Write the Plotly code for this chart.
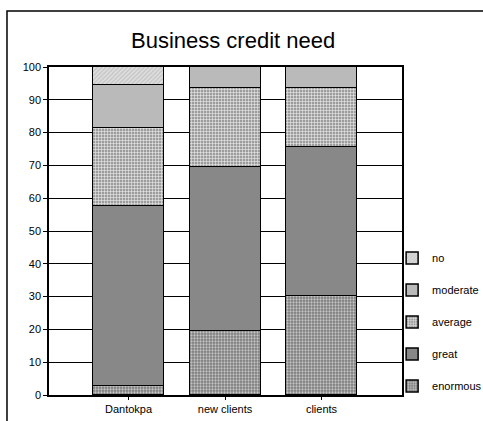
import plotly.graph_objects as go

# Share of respondents (%) by level of business credit need
categories = ["Dantokpa", "new clients", "clients"]
enormous = [2.8, 19.5, 30.2]
great = [54.9, 50.1, 45.3]
average = [23.8, 24.1, 18.2]
moderate = [13.1, 6.3, 6.3]
no_need = [5.4, 0.0, 0.0]
y_ticks = [0, 10, 20, 30, 40, 50, 60, 70, 80, 90, 100]

FONT = "Liberation Sans, Arial, sans-serif"

series = [
    ("enormous", enormous, dict(color="#8c8c8c",
                                pattern=dict(shape=".", fgcolor="#c4c4c4", bgcolor="#7a7a7a",
                                             size=3, solidity=0.45, fillmode="replace"))),
    ("great", great, dict(color="#888888")),
    ("average", average, dict(color="#aaaaaa",
                              pattern=dict(shape="+", fgcolor="#ececec", bgcolor="#9c9c9c",
                                           size=3, solidity=0.35, fillmode="replace"))),
    ("moderate", moderate, dict(color="#bababa")),
    ("no", no_need, dict(color="#d2d2d2",
                         pattern=dict(shape="/", fgcolor="#e4e4e4", bgcolor="#c8c8c8",
                                      size=3, solidity=0.4, fillmode="replace"))),
]

fig = go.Figure()
n = len(series)
for i, (name, vals, marker) in enumerate(series):
    marker = dict(marker)
    marker["line"] = dict(color="black", width=1.5)
    fig.add_trace(go.Bar(
        x=categories, y=vals, name=name, marker=marker,
        width=0.736, legendgroup=name, legendrank=n - i,
    ))

# outer chart frame
fig.add_shape(type="rect", xref="paper", yref="paper",
              x0=-0.119, x1=1.25, y0=-0.25, y1=1.1707,
              line=dict(color="black", width=1.5), layer="below")

fig.update_layout(
    width=483, height=421,
    margin=dict(l=49, r=81, t=67, b=26, autoexpand=False),
    paper_bgcolor="white", plot_bgcolor="white",
    barmode="stack", bargap=0,
    font=dict(family=FONT, size=11, color="black"),
    title=dict(text="Business credit need", x=0.4826, xref="container", xanchor="center",
               y=1 - 40 / 421, yref="container", yanchor="middle",
               font=dict(family=FONT, size=22, color="black")),
    legend=dict(x=0.972, xanchor="left", y=0.462, yanchor="top",
                traceorder="grouped", tracegroupgap=13,
                font=dict(family=FONT, size=11, color="black"),
                bgcolor="rgba(0,0,0,0)"),
    showlegend=True,
)
fig.update_xaxes(range=[-0.824, 2.834], showline=True, linecolor="black", linewidth=2,
                 mirror=True, ticks="outside", ticklen=3, tickcolor="black",
                 showgrid=False, automargin=False, tickfont=dict(size=11))
fig.update_yaxes(range=[0, 100], tickvals=y_ticks, showline=True, linecolor="black",
                 linewidth=1.5, mirror=True, ticks="outside", ticklen=4, tickcolor="black",
                 showgrid=True, gridcolor="black", gridwidth=1, zeroline=False,
                 automargin=False, tickfont=dict(size=11))

fig.write_html("out.html")
